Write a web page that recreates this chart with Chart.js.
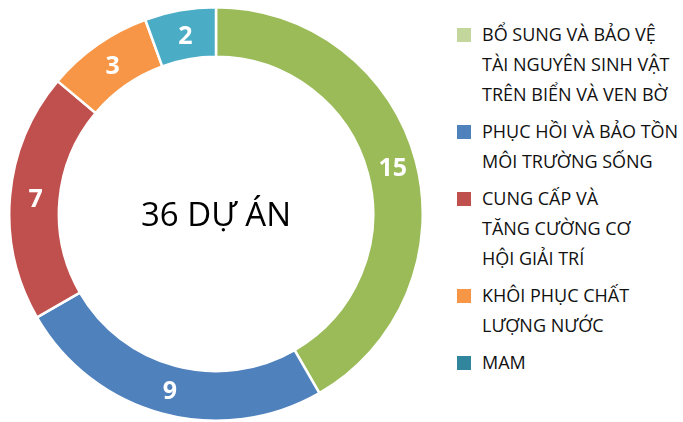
<!DOCTYPE html>
<html>
<head>
<meta charset="utf-8">
<script src="https://cdn.jsdelivr.net/npm/chart.js@4.4.0/dist/chart.umd.min.js"></script>
<style>
  body { margin: 0; background: #fff; width: 683px; height: 422px; overflow: hidden; position: relative; font-family: "Open Sans", sans-serif; }
  #wrap { position: absolute; left: 8px; top: 6px; width: 416px; height: 416px; }
  #legend { position: absolute; left: 457px; top: 19px; width: 226px; }
  .item { position: relative; padding-left: 25px; margin-bottom: 7px; }
  .item .box { position: absolute; left: 0; top: 9px; width: 14px; height: 14px; }
  .item .txt { font-size: 18px; line-height: 30px; color: #111; }
</style>
</head>
<body>
<div id="wrap"><canvas id="chart"></canvas></div>
<div id="legend"></div>
<script>
const categories = [
  ['BỔ SUNG VÀ BẢO VỆ', 'TÀI NGUYÊN SINH VẬT', 'TRÊN BIỂN VÀ VEN BỜ'],
  ['PHỤC HỒI VÀ BẢO TỒN', 'MÔI TRƯỜNG SỐNG'],
  ['CUNG CẤP VÀ', 'TĂNG CƯỜNG CƠ', 'HỘI GIẢI TRÍ'],
  ['KHÔI PHỤC CHẤT', 'LƯỢNG NƯỚC'],
  ['MAM']
];
const projects = [15, 9, 7, 3, 2];
const centerLabel = '36 DỰ ÁN';

const sliceColors = ['#9bbb59', '#4f81bd', '#c0504d', '#f79646', '#4bacc6'];
const legendColors = ['#c3d69b', '#4f81bd', '#c0504d', '#f79646', '#31859c'];

// legend on the right, drawn as html so the long labels can wrap
const legend = document.getElementById('legend');
categories.forEach((lines, i) => {
  const item = document.createElement('div');
  item.className = 'item';
  item.innerHTML = '<span class="box" style="background:' + legendColors[i] + '"></span>' +
    '<div class="txt">' + lines.join('<br>') + '</div>';
  legend.appendChild(item);
});

const labelsPlugin = {
  id: 'sliceLabels',
  afterDatasetsDraw(chart) {
    const ctx = chart.ctx;
    const meta = chart.getDatasetMeta(0);
    ctx.save();
    ctx.fillStyle = '#fff';
    ctx.font = 'bold 25px "Open Sans"';
    ctx.textAlign = 'center';
    ctx.textBaseline = 'middle';
    meta.data.forEach((arc, i) => {
      const p = arc.tooltipPosition();
      ctx.fillText(String(projects[i]), p.x + 1, p.y + 2);
    });
    const c = meta.data[0];
    ctx.fillStyle = '#000';
    ctx.font = '33px "Open Sans"';
    ctx.fillText(centerLabel, c.x, c.y + 3);
    ctx.restore();
  }
};

new Chart(document.getElementById('chart'), {
  type: 'doughnut',
  data: {
    labels: categories.map(l => l.join(' ')),
    datasets: [{
      data: projects,
      backgroundColor: sliceColors,
      borderColor: '#fff',
      borderWidth: 2.5,
      hoverOffset: 0,
      offset: 0
    }]
  },
  options: {
    responsive: true,
    maintainAspectRatio: false,
    animation: false,
    cutout: '76%',
    layout: { padding: 0 },
    plugins: {
      legend: { display: false },
      tooltip: { enabled: false }
    }
  },
  plugins: [labelsPlugin]
});
</script>
</body>
</html>
